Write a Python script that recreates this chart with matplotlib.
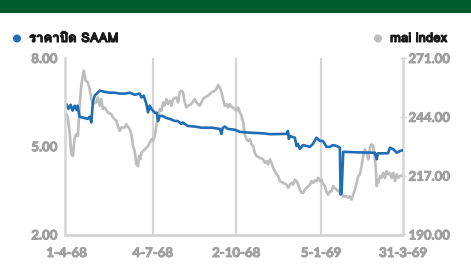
import matplotlib
matplotlib.use("Agg")
import matplotlib.pyplot as plt
from matplotlib import font_manager
from matplotlib.patches import Rectangle, Ellipse
import matplotlib.patheffects as pe

# ---------------- data ----------------
tick_labels = ["1-4-68", "4-7-68", "2-10-68", "5-1-69", "31-3-69"]
tick_pos = [0, 62, 122, 183, 242]

saam_idx = [0, 1.4, 2.9, 4.3, 5.8, 7.2, 7.9, 9.4, 12.2, 15.1, 16.6, 17.8, 18.9, 20.2, 23.8,
            27.4, 31.0, 34.6, 38.2, 41.8, 45.4, 49.0, 52.6, 53.8, 55.5, 57.4, 58.6, 59.8,
            61.0, 63.4, 64.8, 65.8, 67.0, 69.1, 71.3, 74.2, 77.8, 79.9, 82.6, 83.5, 87.1,
            92.2, 97.2, 104.4, 110.2, 111.4, 112.3, 113.8, 115.9, 121.0, 124.6, 131.8,
            141.2, 146.2, 158.4, 159.2, 159.9, 160.6, 164.2, 165.4, 166.4, 167.8, 170.0,
            172.6, 175.0, 177.2, 179.8, 182.2, 184.4, 187.0, 189.4, 191.6, 194.2, 196.6,
            197.1, 197.8, 199.0, 211.0, 221.8, 223.1, 224.0, 231.2, 232.6, 235.0, 237.5,
            239.9, 241.5]
saam_price = [6.41, 6.27, 6.41, 6.21, 6.38, 6.24, 6.38, 6.00, 5.97, 5.93, 6.00, 5.81, 6.49,
              6.72, 6.89, 6.85, 6.82, 6.82, 6.79, 6.79, 6.82, 6.75, 6.79, 6.66, 6.72, 6.44,
              6.15, 6.38, 6.27, 6.14, 6.14, 5.86, 6.03, 6.03, 5.97, 5.93, 5.86, 5.86, 5.76,
              5.81, 5.69, 5.67, 5.63, 5.63, 5.59, 5.42, 5.62, 5.67, 5.59, 5.56, 5.49, 5.46,
              5.44, 5.41, 5.42, 5.52, 5.25, 5.35, 5.29, 5.01, 5.08, 4.91, 5.04, 5.01, 4.98,
              5.08, 5.29, 5.18, 5.18, 4.98, 4.98, 5.04, 5.01, 4.95, 3.36, 3.41, 4.81, 4.79,
              4.78, 4.56, 4.76, 4.76, 4.95, 4.90, 4.78, 4.84, 4.86]

mai_idx = [0, 0.9, 2.2, 3.4, 4.5, 5.8, 7.0, 8.1, 9.4, 10.6, 11.7, 12.5, 13.7, 15.3, 16.6,
           17.8, 18.9, 21.4, 22.5, 23.8, 25.0, 26.1, 27.4, 29.7, 32.2, 33.3, 35.8, 36.9,
           38.2, 39.4, 41.8, 43.0, 45.4, 46.6, 47.8, 49.0, 50.2, 51.4, 52.1, 53.1, 53.8,
           56.2, 58.6, 61.0, 62.2, 63.4, 64.6, 65.8, 67.0, 68.2, 69.4, 70.6, 71.8, 73.0,
           74.2, 75.4, 76.6, 79.0, 80.2, 81.4, 82.6, 83.8, 85.0, 86.2, 87.4, 89.8, 92.2,
           93.4, 95.8, 98.2, 99.4, 101.8, 104.2, 106.6, 107.8, 109.0, 110.2, 111.4, 112.6,
           113.8, 115.0, 116.2, 117.4, 118.6, 119.8, 122.2, 123.4, 124.6, 125.8, 127.0,
           128.2, 129.4, 130.6, 131.8, 133.0, 134.2, 135.4, 136.6, 139.0, 141.4, 142.6,
           143.8, 145.0, 146.2, 147.4, 148.6, 149.8, 151.0, 152.2, 153.4, 155.8, 158.2,
           159.4, 160.6, 161.8, 163.0, 164.2, 165.4, 166.6, 167.8, 169.0, 170.2, 171.4,
           172.6, 175.0, 176.2, 177.4, 178.6, 179.8, 181.0, 182.2, 183.4, 184.6, 185.8,
           187.0, 188.2, 189.4, 190.6, 191.8, 193.0, 195.4, 196.6, 197.8, 199.0, 201.4,
           202.6, 203.8, 205.0, 206.2, 207.4, 208.6, 209.8, 211.0, 212.2, 213.4, 214.6,
           215.8, 217.0, 218.2, 219.4, 220.6, 221.8, 222.5, 223.0, 223.8, 224.2, 225.4,
           226.6, 227.8, 229.0, 230.2, 231.4, 232.6, 233.8, 235.0, 236.2, 237.5, 238.6,
           239.8, 241.0]
mai_value = [245.2, 243.7, 236.8, 226.8, 226.0, 234.4, 236.0, 235.2, 249.1, 258.3, 262.9,
             265.2, 260.6, 259.8, 256.8, 252.2, 249.9, 250.6, 252.9, 249.1, 252.2, 247.6,
             248.3, 246.0, 245.2, 243.7, 242.2, 239.8, 237.5, 239.1, 239.1, 240.6, 238.3,
             236.0, 230.6, 228.3, 222.2, 221.4, 226.0, 224.5, 227.5, 229.0, 230.6, 233.7,
             232.9, 235.2, 239.8, 243.7, 247.6, 246.8, 250.6, 249.1, 252.2, 249.9, 251.4,
             249.1, 252.2, 252.9, 250.6, 255.2, 256.0, 255.2, 250.6, 248.3, 249.1, 249.9,
             252.2, 250.6, 249.1, 252.2, 252.9, 253.7, 255.2, 256.0, 256.8, 258.6, 257.5,
             255.2, 252.2, 249.1, 249.9, 248.3, 249.9, 248.6, 248.3, 246.8, 248.3, 246.0,
             244.5, 241.4, 236.0, 233.7, 232.9, 233.7, 231.4, 230.6, 227.5, 226.0, 225.2,
             224.5, 222.9, 223.7, 222.2, 224.5, 222.9, 220.6, 219.1, 217.6, 216.8, 214.5,
             213.7, 212.9, 211.4, 212.9, 213.7, 212.9, 215.2, 214.5, 212.9, 210.6, 209.1,
             209.1, 210.6, 211.4, 212.9, 214.5, 213.7, 214.8, 214.5, 216.0, 214.5, 215.2,
             213.0, 212.2, 209.5, 208.3, 209.8, 209.8, 212.2, 211.4, 209.8, 210.6, 209.1,
             207.5, 207.5, 206.8, 207.5, 206.0, 208.3, 210.6, 213.7, 216.8, 217.6, 221.4,
             226.0, 229.1, 227.5, 224.5, 229.8, 231.4, 230.6, 224.5, 219.9, 212.2, 214.5,
             213.7, 216.8, 216.0, 218.3, 216.0, 219.1, 217.6, 218.3, 216.0, 218.3, 214.5,
             217.6, 216.0, 216.8, 217.1]

left_ticks = [2.0, 5.0, 8.0]
right_ticks = [190.0, 217.0, 244.0, 271.0]
series_names = ["ราคาปิด SAAM", "mai index"]

# ---------------- fonts ----------------
def find_thai_font():
    try:
        from fontTools.ttLib import TTFont
    except Exception:
        return None
    best = None
    for fe in font_manager.fontManager.ttflist:
        try:
            f = TTFont(fe.fname, fontNumber=0, lazy=True)
            cmap = f.getBestCmap()
            if cmap and 0x0E23 in cmap and 0x0E1B in cmap:
                w = fe.weight if isinstance(fe.weight, int) else 400
                if best is None or abs(w - 700) < abs(best[1] - 700):
                    best = (fe.name, w)
        except Exception:
            pass
    return best[0] if best else None


thai = find_thai_font()
legend_family = ([thai] if thai else []) + ["Open Sans", "DejaVu Sans"]
legend_fx = [pe.withStroke(linewidth=0.7, foreground="#1a1a1a")]

BLUE = "#1f6db4"
GRAY = "#bdbdbd"
SPINE = "#d5d5d5"
LABEL = "#a0a0a0"
tick_family = ["Lato", "DejaVu Sans"]
tick_fx = [pe.withStroke(linewidth=0.7, foreground=LABEL)]

fig = plt.figure(figsize=(4.71, 2.66), dpi=100)
fig.patch.set_facecolor("white")

# header band
fig.patches.append(Rectangle((0, 1 - 12.7 / 266), 1, 12.7 / 266, transform=fig.transFigure,
                             facecolor="#005a2c", edgecolor="none", zorder=0))

ax = fig.add_axes([64.5 / 471, 1 - 234.5 / 266, (403 - 64.5) / 471, (234.5 - 58) / 266])
ax2 = ax.twinx()
ax.set_zorder(ax2.get_zorder() + 1)
ax.patch.set_visible(False)

ax2.plot(mai_idx, mai_value, color=GRAY, lw=1.9, solid_joinstyle="round")
ax.plot(saam_idx, saam_price, color=BLUE, lw=1.9, solid_joinstyle="round")

ax.set_xlim(-1.5, 242)
ax.set_ylim(2.0, 8.0)
ax2.set_ylim(190.0, 271.0)

for p in tick_pos[1:-1]:
    ax2.axvline(p, color=SPINE, lw=1.6, zorder=0)

ax.set_xticks(tick_pos)
ax.set_xticklabels(tick_labels)
ax.set_yticks(left_ticks)
ax.set_yticklabels([f"{v:.2f}" for v in left_ticks])
ax2.set_yticks(right_ticks)
ax2.set_yticklabels([f"{v:.2f}" for v in right_ticks])

for lbl in ax.get_xticklabels() + ax.get_yticklabels() + ax2.get_yticklabels():
    lbl.set_fontfamily(tick_family)
    lbl.set_fontweight("bold")
    lbl.set_fontsize(9.5)
    lbl.set_color(LABEL)
    lbl.set_path_effects(tick_fx)

ax.tick_params(axis="x", length=0, pad=9)
ax.tick_params(axis="y", length=0, pad=5)
ax2.tick_params(axis="y", direction="inout", length=4, width=1, color=SPINE, pad=2)

for a in (ax, ax2):
    a.spines["top"].set_visible(False)
    for s in ("left", "right", "bottom"):
        a.spines[s].set_color(SPINE)
        a.spines[s].set_linewidth(1.8)
ax.spines["right"].set_visible(False)
ax2.spines["left"].set_visible(False)

# legend
fig.patches.append(Ellipse((17 / 471, 1 - 38.5 / 266), 8 / 471, 8 / 266,
                           transform=fig.transFigure, facecolor=BLUE, edgecolor="none"))
fig.text(29 / 471, 1 - 39 / 266, series_names[0], family=legend_family, weight="bold",
         size=9.5, color="#1a1a1a", va="center", ha="left", path_effects=legend_fx)
fig.patches.append(Ellipse((378 / 471, 1 - 38.5 / 266), 8 / 471, 8 / 266,
                           transform=fig.transFigure, facecolor=GRAY, edgecolor="none"))
fig.text(390 / 471, 1 - 39 / 266, series_names[1], family=legend_family, weight="bold",
         size=9.5, color="#1a1a1a", va="center", ha="left", path_effects=legend_fx)

fig.savefig("out.png", dpi=100)
